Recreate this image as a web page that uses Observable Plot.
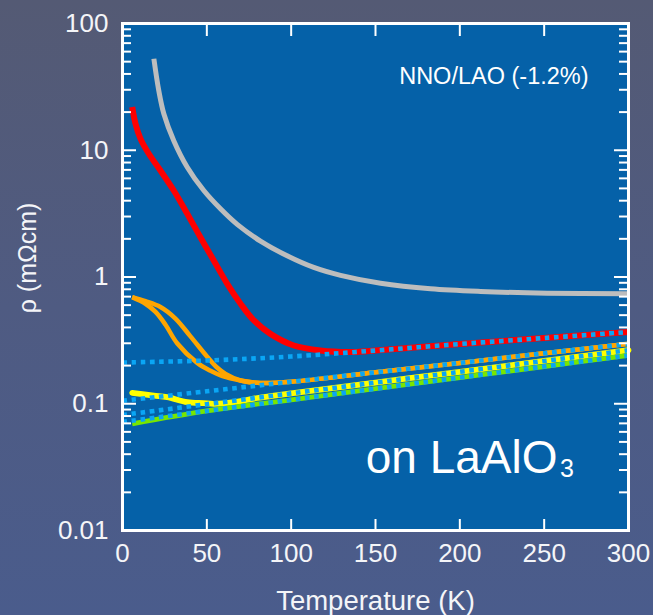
<!DOCTYPE html>
<html>
<head>
<meta charset="utf-8">
<script src="https://cdn.jsdelivr.net/npm/d3@7"></script>
<script src="https://cdn.jsdelivr.net/npm/@observablehq/plot@0.6"></script>
<style>
  html, body { margin: 0; padding: 0; width: 653px; height: 615px; overflow: hidden; }
  body { background: linear-gradient(to bottom, #545a74 0%, #4f5b82 50%, #4a5c8c 100%); }
  #chart svg { display: block; }
</style>
</head>
<body>
<div id="chart"></div>
<script>
// Resistivity of NdNiO3 films on LaAlO3 versus temperature (log scale)

// Axis ticks and labels
const xTicks = [0, 50, 100, 150, 200, 250, 300];
const yMajorTicks = [0.01, 0.1, 1, 10, 100];
const yTickLabels = ["0.01", "0.1", "1", "10", "100"];
const yMinorTicks = yMajorTicks.slice(0, -1).flatMap(d => [2, 3, 4, 5, 6, 7, 8, 9].map(m => d * m));

// Grey sample
const greyT   = [18.6, 21.5, 24.5, 30.4, 38.4, 48.2, 58.1, 68.0, 81.8, 97.6, 113.4, 129.3, 153, 182.6, 212.3, 251.8, 300];
const greyRho = [52.7, 29.6, 19.4, 11.9, 7.35, 4.81, 3.45, 2.6, 1.92, 1.47, 1.19, 1.03, 0.893, 0.807, 0.769, 0.745, 0.737];

// Red sample
const redT   = [5.75, 7.7, 10.7, 15.6, 22.5, 30.4, 38.4, 46.2, 54.1, 62.1, 70.0, 77.9, 87.7, 101.6, 117.4, 135, 150, 200, 250, 300];
const redRho = [21.9, 16.2, 12.3, 9.38, 6.92, 4.81, 3.15, 2.06, 1.35, 0.883, 0.615, 0.454, 0.356, 0.288, 0.263, 0.256, 0.263, 0.296, 0.330, 0.368];

// Orange sample: the two branches of the hysteresis loop
const orangeCoolT   = [5.75, 13.6, 19.6, 25.5, 32.4, 44.3, 52.2, 59.3, 70.0, 81.8, 100, 150, 200, 250, 300];
const orangeCoolRho = [0.693, 0.615, 0.53, 0.42, 0.30, 0.21, 0.182, 0.165, 0.1526, 0.1458, 0.149, 0.177, 0.210, 0.250, 0.297];
const orangeWarmT   = [5.75, 13.6, 22.5, 31.4, 40.3, 50.2, 55.7, 61.1, 70.0, 81.8, 100, 150, 200, 250, 300];
const orangeWarmRho = [0.693, 0.645, 0.58, 0.47, 0.34, 0.235, 0.195, 0.172, 0.1526, 0.1458, 0.149, 0.177, 0.210, 0.250, 0.297];

// Yellow sample
const yellowT   = [5.75, 18.6, 26.5, 38.4, 48.2, 54.1, 66.0, 80, 100, 150, 200, 250, 300];
const yellowRho = [0.122, 0.116, 0.1126, 0.1028, 0.101, 0.0999, 0.1028, 0.111, 0.1207, 0.1468, 0.1787, 0.2175, 0.2646];

// Green sample
const greenT   = [5.75, 50, 100, 150, 200, 250, 300];
const greenRho = [0.0695, 0.0878, 0.1074, 0.1314, 0.1608, 0.1967, 0.2406];

// Dotted fits of the metallic regime, extended down to 0 K
const fitT         = [0, 50, 100, 150, 200, 250, 300];
const fitRedRho    = [0.2115, 0.2194, 0.236, 0.263, 0.296, 0.330, 0.368];
const fitOrangeRho = [0.1055, 0.1254, 0.149, 0.177, 0.210, 0.250, 0.297];
const fitYellowRho = [0.0815, 0.0992, 0.1207, 0.1468, 0.1787, 0.2175, 0.2646];
const fitGreenRho  = [0.0718, 0.0878, 0.1074, 0.1314, 0.1608, 0.1967, 0.2406];

// In-plot annotations
const noteText = ["NNO/LAO (-1.2%)", "on LaAlO", "3"];
const noteT    = [276.3, 257.9, 259.4];
const noteRho  = [33.6, 0.02817, 0.02667];

const rows = (T, R) => T.map((t, i) => ({T: t, rho: R[i]}));
const notes = noteText.map((text, i) => ({text, T: noteT[i], rho: noteRho[i]}));

const font = "'Liberation Sans', Arial, Helvetica, sans-serif";
const fitColor = "#0aa6f5";
const dash = "4.6,4.6";
const innerW = 506, innerH = 507;

const solid = (T, R, stroke, strokeWidth, extra = {}) =>
  Plot.line(rows(T, R), {x: "T", y: "rho", stroke, strokeWidth, strokeLinecap: "butt", curve: "catmull-rom", ...extra});
const dotted = (R) =>
  Plot.line(rows(fitT, R), {x: "T", y: "rho", stroke: fitColor, strokeWidth: 4.6, strokeDasharray: dash, strokeLinecap: "butt", curve: "catmull-rom"});

const chart = Plot.plot({
  width: 653,
  height: 615,
  marginLeft: 122,
  marginRight: 25,
  marginTop: 23,
  marginBottom: 85,
  style: {fontFamily: font, fontSize: "26px", color: "#f4f5f8", background: "transparent", overflow: "visible"},
  x: {domain: [0, 300]},
  y: {type: "log", domain: [0.01, 100]},
  marks: [
    Plot.frame({fill: "#0561a8"}),

    solid(greyT, greyRho, "#bdbdbd", 5),
    solid(redT, redRho, "#ff0000", 6),
    solid(orangeCoolT, orangeCoolRho, "#ffa500", 4.5),
    solid(orangeWarmT, orangeWarmRho, "#ffa500", 4.5),
    solid(yellowT, yellowRho, "#ffff00", 5.8, {strokeLinecap: "round"}),
    solid(greenT, greenRho, "#78e600", 4.8),

    dotted(fitRedRho),
    dotted(fitOrangeRho),
    dotted(fitYellowRho),
    dotted(fitGreenRho),

    // inward tick marks on all four sides
    Plot.tickY(yMinorTicks, {y: d => d, stroke: "white", strokeWidth: 2, insetRight: innerW - 9}),
    Plot.tickY(yMinorTicks, {y: d => d, stroke: "white", strokeWidth: 2, insetLeft: innerW - 9}),
    Plot.tickY(yMajorTicks, {y: d => d, stroke: "white", strokeWidth: 2, insetRight: innerW - 14}),
    Plot.tickY(yMajorTicks, {y: d => d, stroke: "white", strokeWidth: 2, insetLeft: innerW - 14}),
    Plot.tickX(xTicks, {x: d => d, stroke: "white", strokeWidth: 2, insetTop: innerH - 11}),
    Plot.tickX(xTicks, {x: d => d, stroke: "white", strokeWidth: 2, insetBottom: innerH - 13}),
    Plot.frame({stroke: "white", strokeWidth: 3}),

    Plot.axisY(yMajorTicks, {tickFormat: d => yTickLabels[yMajorTicks.indexOf(d)], tickSize: 0, tickPadding: 14, label: null, fontSize: 26}),
    Plot.axisX(xTicks, {tickFormat: d => String(d), tickSize: 0, tickPadding: 13, label: null, fontSize: 26}),

    Plot.text(["Temperature (K)"], {frameAnchor: "bottom", dy: 79, lineAnchor: "bottom", fontSize: 27.5, fill: "#f4f5f8"}),
    Plot.text(["ρ (mΩcm)"], {frameAnchor: "left", rotate: -90, dx: -87, dy: -19, lineAnchor: "bottom", textAnchor: "middle", fontSize: 25, fill: "#f4f5f8"}),

    Plot.text(notes.slice(0, 1), {x: "T", y: "rho", text: "text", textAnchor: "end", lineAnchor: "bottom", fontSize: 23.5, fill: "white"}),
    Plot.text(notes.slice(1, 2), {x: "T", y: "rho", text: "text", textAnchor: "end", lineAnchor: "bottom", fontSize: 46, fill: "white"}),
    Plot.text(notes.slice(2, 3), {x: "T", y: "rho", text: "text", textAnchor: "start", lineAnchor: "bottom", fontSize: 25, fill: "white"})
  ]
});

document.getElementById("chart").appendChild(chart);
</script>
</body>
</html>
